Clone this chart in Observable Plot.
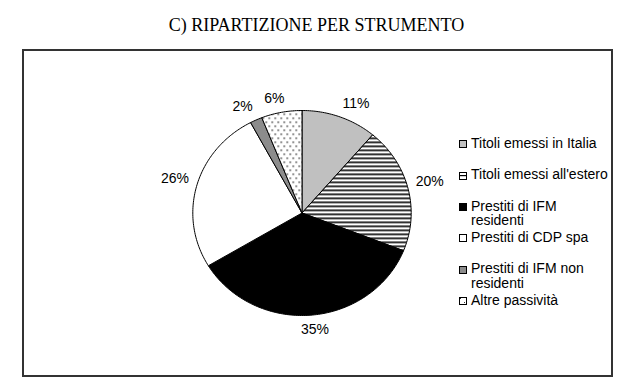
<!DOCTYPE html>
<html>
<head>
<meta charset="utf-8">
<script src="https://cdn.jsdelivr.net/npm/d3@7"></script>
<script src="https://cdn.jsdelivr.net/npm/@observablehq/plot@0.6"></script>
<style>
  html, body { margin: 0; padding: 0; background: #fff; }
  #page { position: relative; width: 633px; height: 385px; overflow: hidden; font-family: "Liberation Sans", Arial, sans-serif; }
  #title { position: absolute; left: 0; top: 16px; width: 633px; text-align: center; font-family: "Liberation Serif", "Times New Roman", serif; font-size: 18px; line-height: 18px; color: #000; }
  #frame { position: absolute; left: 22px; top: 49px; width: 591px; height: 328px; box-sizing: border-box; border: 2px solid #333; }
  #chart { position: absolute; left: 0; top: 0; }
  #legend { position: absolute; left: 459px; top: 135.8px; }
  .item { position: relative; height: 31.4px; }
  .item svg { position: absolute; left: 0; top: 4.5px; }
  .item span { position: absolute; left: 12px; top: 0; width: 140px; font-size: 14px; line-height: 14.5px; color: #000; }
</style>
</head>
<body>
<svg width="0" height="0" style="position:absolute">
  <defs>
    <pattern id="hatch" patternUnits="userSpaceOnUse" width="8" height="4">
      <rect width="8" height="4" fill="#fff"/>
      <rect y="1" width="8" height="1.6" fill="#000"/>
    </pattern>
    <pattern id="dots" patternUnits="userSpaceOnUse" width="6" height="8">
      <rect width="6" height="8" fill="#fff"/>
      <rect x="1" y="1" width="1.4" height="1.4" fill="#222"/>
      <rect x="4" y="5" width="1.4" height="1.4" fill="#222"/>
    </pattern>
    <pattern id="hatchSw" patternUnits="userSpaceOnUse" width="7" height="7">
      <rect width="7" height="7" fill="#fff"/>
      <rect y="3" width="7" height="1.2" fill="#000"/>
    </pattern>
    <pattern id="dotsSw" patternUnits="userSpaceOnUse" width="7" height="7">
      <rect width="7" height="7" fill="#fff"/>
      <rect x="1" y="1" width="1" height="1" fill="#333"/>
      <rect x="5" y="5" width="1" height="1" fill="#333"/>
    </pattern>
  </defs>
</svg>
<div id="page">
  <div id="title">C) RIPARTIZIONE PER STRUMENTO</div>
  <div id="frame"></div>
  <div id="chart"></div>
  <div id="legend"></div>
</div>
<script>
// ---- data ----
const categories = [
  "Titoli emessi in Italia",
  "Titoli emessi all'estero",
  "Prestiti di IFM residenti",
  "Prestiti di CDP spa",
  "Prestiti di IFM non residenti",
  "Altre passività"
];
const shares = [11.2, 19.8, 35.4, 25.8, 1.8, 6.0];
const labels = ["11%", "20%", "35%", "26%", "2%", "6%"];

// ---- styles ----
const fills = ["#c0c0c0", "url(#hatch)", "#000000", "#ffffff", "#8c8c8c", "url(#dots)"];
const swatchFills = ["#c0c0c0", "url(#hatchSw)", "#000000", "#ffffff", "#8c8c8c", "url(#dotsSw)"];

// ---- geometry from data ----
const total = d3.sum(shares);
const cum = d3.cumsum(shares);
const slices = categories.map((name, i) => {
  const a0 = ((cum[i] - shares[i]) / total) * 2 * Math.PI;
  const a1 = (cum[i] / total) * 2 * Math.PI;
  const n = Math.max(2, Math.ceil((a1 - a0) / (Math.PI / 180)));
  const pts = [{x: 0, y: 0}];
  for (let k = 0; k <= n; k++) {
    const a = a0 + (a1 - a0) * k / n;
    pts.push({x: Math.sin(a), y: Math.cos(a)});
  }
  pts.push({x: 0, y: 0});
  return {name, pts, mid: (a0 + a1) / 2, fill: fills[i], label: labels[i]};
});

const ctx = document.createElement("canvas").getContext("2d");
ctx.font = '14px "Liberation Sans", Arial, sans-serif';
const clamp = v => Math.max(-1, Math.min(1, v));

const labelMarks = slices.map(s => {
  const sx = Math.sin(s.mid), cy = Math.cos(s.mid);
  const hw = ctx.measureText(s.label).width / 2;
  const hh = 6, gap = 8;
  const dx = hw * clamp(3 * sx) + gap * sx;
  const dy = -(hh * clamp(3 * cy) + gap * cy);
  return Plot.text([{x: sx, y: cy, t: s.label}], {
    x: "x", y: "y", text: "t", dx, dy,
    fontSize: 14, fill: "#000", textAnchor: "middle",
    fontFamily: '"Liberation Sans", Arial, sans-serif'
  });
});

const chart = Plot.plot({
  width: 633,
  height: 385,
  marginLeft: 192.3,
  marginRight: 222.3,
  marginTop: 110,
  marginBottom: 70,
  x: {domain: [-1, 1], axis: null},
  y: {domain: [-1, 1], axis: null},
  style: {background: "transparent", overflow: "visible"},
  marks: [
    ...slices.map(s => Plot.line(s.pts, {
      x: "x", y: "y", fill: s.fill, stroke: "#000", strokeWidth: 1, strokeLinejoin: "round"
    })),
    ...labelMarks
  ]
});
document.getElementById("chart").appendChild(chart);

// ---- legend ----
const legend = document.getElementById("legend");
categories.forEach((name, i) => {
  const item = document.createElement("div");
  item.className = "item";
  item.innerHTML = `<svg width="8" height="8"><rect x="0.5" y="0.5" width="7" height="7" fill="${swatchFills[i]}" stroke="#000" stroke-width="1"/></svg><span>${name}</span>`;
  legend.appendChild(item);
});
</script>
</body>
</html>
